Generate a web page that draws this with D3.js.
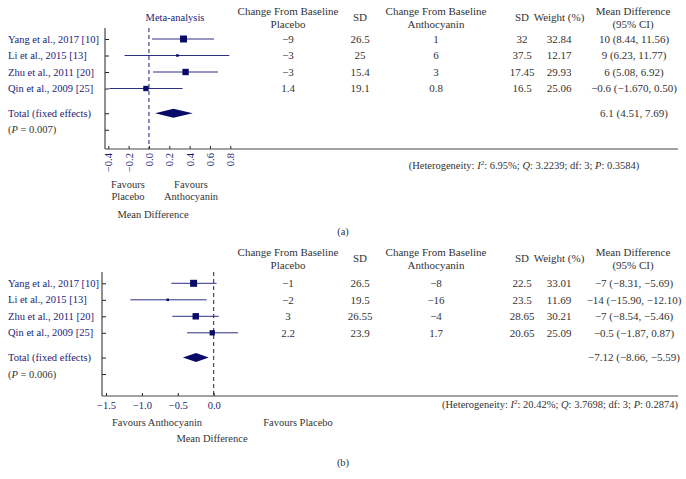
<!DOCTYPE html>
<html lang="en">
<head>
    <meta charset="UTF-8">
    <title>Forest plots</title>
    <script src="https://d3js.org/d3.v7.min.js"></script>
    <style>
        body {
            margin: 0;
            background: #fff;
            font-family: "Liberation Serif", "DejaVu Serif", serif;
        }
        svg {
            display: block;
        }
    </style>
</head>
<body>
    <div id="container"></div>

    <script>
        // study names (same in both panels)
        const studies = ['Yang et al., 2017 [10]', 'Li et al., 2015 [13]', 'Zhu et al., 2011 [20]', 'Qin et al., 2009 [25]'];

        // panel (a)
        const placeboA = ['\u22129', '\u22123', '\u22123', '1.4'];
        const placeboSdA = ['26.5', '25', '15.4', '19.1'];
        const anthoA = ['1', '6', '3', '0.8'];
        const anthoSdA = ['32', '37.5', '17.45', '16.5'];
        const weightA = [32.84, 12.17, 29.93, 25.06];
        const mdTextA = ['10 (8.44, 11.56)', '9 (6.23, 11.77)', '6 (5.08, 6.92)', '\u22120.6 (\u22121.670, 0.50)'];
        const meanA = [0.34, 0.28, 0.36, -0.03];
        const lowA = [0.03, -0.24, 0.04, -0.39];
        const highA = [0.64, 0.79, 0.68, 0.33];
        const totalA = {mean: 0.24, low: 0.06, high: 0.43, text: '6.1 (4.51, 7.69)', p: '0.007'};
        const ticksA = [-0.4, -0.2, 0.0, 0.2, 0.4, 0.6, 0.8];

        // panel (b)
        const placeboB = ['\u22121', '\u22122', '3', '2.2'];
        const placeboSdB = ['26.5', '19.5', '26.55', '23.9'];
        const anthoB = ['\u22128', '\u221216', '\u22124', '1.7'];
        const anthoSdB = ['22.5', '23.5', '28.65', '20.65'];
        const weightB = [33.01, 11.69, 30.21, 25.09];
        const mdTextB = ['\u22127 (\u22128.31, \u22125.69)', '\u221214 (\u221215.90, \u221212.10)', '\u22127 (\u22128.54, \u22125.46)', '\u22120.5 (\u22121.87, 0.87)'];
        const meanB = [-0.28, -0.64, -0.25, -0.02];
        const lowB = [-0.59, -1.16, -0.575, -0.37];
        const highB = [0.04, -0.10, 0.07, 0.34];
        const totalB = {mean: -0.245, low: -0.43, high: -0.07, text: '\u22127.12 (\u22128.66, \u22125.59)', p: '0.006'};
        const ticksB = [-1.5, -1.0, -0.5, 0.0];

        const navy = '#1c1c78';
        const mark = '#0a0a68';
        const ink = '#333';

        const width = 686, height = 479;
        const svg = d3.select('#container').append('svg')
            .attr('width', width)
            .attr('height', height);

        // marker size follows the weight
        const size = d3.scaleLinear().domain([0, 33]).range([0, 7]);

        function fmt(v) {
            return d3.format('.1f')(v).replace('-', '\u2212');
        }

        function drawPanel(p) {
            const g = svg.append('g');
            const rowIdx = [0, 1, 2, 3, 4.5, 5.5];
            const y = d3.scaleLinear().domain([0, 1]).range([p.row0, p.row0 + 16.5]);
            const x = d3.scaleLinear().domain(p.xDomain).range(p.xRange);

            // column headers
            const head = g.append('g').attr('fill', ink).attr('font-size', 11).attr('text-anchor', 'middle');
            const hy = p.headY;
            head.append('text').attr('x', 288).attr('y', hy).attr('dy', '0.35em').text('Change From Baseline');
            head.append('text').attr('x', 288).attr('y', hy + 13).attr('dy', '0.35em').text('Placebo');
            head.append('text').attr('x', 360).attr('y', hy + 6.5).attr('dy', '0.35em').text('SD');
            head.append('text').attr('x', 436).attr('y', hy).attr('dy', '0.35em').text('Change From Baseline');
            head.append('text').attr('x', 436).attr('y', hy + 13).attr('dy', '0.35em').text('Anthocyanin');
            head.append('text').attr('x', 522).attr('y', hy + 6.5).attr('dy', '0.35em').text('SD');
            head.append('text').attr('x', 559).attr('y', hy + 6.5).attr('dy', '0.35em').text('Weight (%)');
            head.append('text').attr('x', 633).attr('y', hy).attr('dy', '0.35em').text('Mean Difference');
            head.append('text').attr('x', 633).attr('y', hy + 13).attr('dy', '0.35em').text('(95% CI)');

            // table values
            const cols = [
                {x: 288, vals: p.placebo},
                {x: 360, vals: p.placeboSd},
                {x: 436, vals: p.antho},
                {x: 522, vals: p.anthoSd},
                {x: 559, vals: p.weight.map(d => d.toFixed(2))},
                {x: 634, vals: p.mdText}
            ];
            cols.forEach(c => {
                g.selectAll(null)
                    .data(c.vals)
                    .enter()
                    .append('text')
                    .attr('x', c.x)
                    .attr('y', (d, i) => y(i))
                    .attr('dy', '0.35em')
                    .attr('text-anchor', 'middle')
                    .attr('font-size', 11)
                    .attr('fill', ink)
                    .text(d => d);
            });
            g.append('text')
                .attr('x', 634).attr('y', y(4.5)).attr('dy', '0.35em')
                .attr('text-anchor', 'middle').attr('font-size', 11).attr('fill', ink)
                .text(p.total.text);

            // study labels
            g.selectAll(null)
                .data(p.studies)
                .enter()
                .append('text')
                .attr('x', 8)
                .attr('y', (d, i) => y(i))
                .attr('dy', '0.35em')
                .attr('font-size', 10.5)
                .attr('fill', navy)
                .text(d => d);
            g.append('text').attr('x', 8).attr('y', y(4.5)).attr('dy', '0.35em')
                .attr('font-size', 10.5).attr('fill', navy).text('Total (fixed effects)');
            const pt = g.append('text').attr('x', 8).attr('y', y(5.5)).attr('dy', '0.35em')
                .attr('font-size', 10.5).attr('fill', ink);
            pt.append('tspan').text('(');
            pt.append('tspan').attr('font-style', 'italic').text('P');
            pt.append('tspan').text(' = ' + p.total.p + ')');

            // y axis with inside ticks
            const yAxis = g.append('g')
                .attr('transform', `translate(${p.axisLeft},0)`)
                .call(d3.axisLeft(y).tickValues(rowIdx).tickSize(-4).tickFormat(''));
            yAxis.select('.domain').remove();
            yAxis.selectAll('line').attr('stroke', '#222');
            g.append('line')
                .attr('x1', p.axisLeft).attr('x2', p.axisLeft)
                .attr('y1', p.axisTop).attr('y2', p.axisBottom)
                .attr('stroke', '#222');

            // x axis
            const xAxis = g.append('g')
                .attr('transform', `translate(0,${p.axisBottom})`)
                .call(d3.axisBottom(x).tickValues(p.ticks).tickSize(-3).tickFormat(fmt));
            xAxis.select('.domain').remove();
            xAxis.selectAll('line').attr('stroke', '#222');
            xAxis.selectAll('text')
                .attr('fill', navy)
                .attr('font-family', '"Liberation Serif", serif')
                .attr('font-size', 10.5);
            if (p.rotate) {
                xAxis.selectAll('text')
                    .attr('transform', 'rotate(-90)')
                    .attr('text-anchor', 'end')
                    .attr('x', -4)
                    .attr('y', 0)
                    .attr('dy', '0.35em');
            } else {
                xAxis.selectAll('text').attr('y', 6).attr('dy', '0.71em');
            }
            g.append('line')
                .attr('x1', p.axisLeft).attr('x2', 678)
                .attr('y1', p.axisBottom).attr('y2', p.axisBottom)
                .attr('stroke', '#444');

            // zero line
            g.append('line')
                .attr('x1', x(0)).attr('x2', x(0))
                .attr('y1', p.axisTop).attr('y2', p.axisBottom)
                .attr('stroke', navy)
                .attr('stroke-dasharray', '4,3');

            // confidence intervals
            g.selectAll(null)
                .data(p.mean)
                .enter()
                .append('line')
                .attr('x1', (d, i) => x(p.low[i]))
                .attr('x2', (d, i) => x(p.high[i]))
                .attr('y1', (d, i) => y(i))
                .attr('y2', (d, i) => y(i))
                .attr('stroke', '#2e2e82');

            // squares
            g.selectAll(null)
                .data(p.mean)
                .enter()
                .append('rect')
                .attr('x', (d, i) => x(d) - size(p.weight[i]) / 2)
                .attr('y', (d, i) => y(i) - size(p.weight[i]) / 2)
                .attr('width', (d, i) => size(p.weight[i]))
                .attr('height', (d, i) => size(p.weight[i]))
                .attr('fill', mark);

            // pooled diamond
            const ty = y(4.5);
            g.append('path')
                .attr('d', `M${x(p.total.low)},${ty}L${x(p.total.mean)},${ty - 4.5}L${x(p.total.high)},${ty}L${x(p.total.mean)},${ty + 4.5}Z`)
                .attr('fill', mark);

            return {g, x, y};
        }

        // ---- panel (a)
        const a = drawPanel({
            studies, placebo: placeboA, placeboSd: placeboSdA, antho: anthoA, anthoSd: anthoSdA,
            weight: weightA, mdText: mdTextA, mean: meanA, low: lowA, high: highA, total: totalA,
            ticks: ticksA, xDomain: [-0.4, 0.8], xRange: [108.3, 230.3],
            row0: 39, headY: 11, axisLeft: 105, axisTop: 28, axisBottom: 149, rotate: true
        });
        a.g.append('text').attr('x', 175).attr('y', 17).attr('dy', '0.35em')
            .attr('text-anchor', 'middle').attr('font-size', 10.5).attr('fill', navy).text('Meta-analysis');
        const labA = a.g.append('g').attr('font-size', 10.5).attr('fill', ink).attr('text-anchor', 'middle');
        labA.append('text').attr('x', 128).attr('y', 184).attr('dy', '0.35em').text('Favours');
        labA.append('text').attr('x', 128).attr('y', 196).attr('dy', '0.35em').text('Placebo');
        labA.append('text').attr('x', 191).attr('y', 184).attr('dy', '0.35em').text('Favours');
        labA.append('text').attr('x', 191).attr('y', 196).attr('dy', '0.35em').text('Anthocyanin');
        labA.append('text').attr('x', 153).attr('y', 214).attr('dy', '0.35em').text('Mean Difference');
        labA.append('text').attr('x', 343).attr('y', 231).attr('dy', '0.35em').text('(a)');
        const hetA = a.g.append('text').attr('x', 524).attr('y', 165).attr('dy', '0.35em')
            .attr('text-anchor', 'middle').attr('font-size', 10.5).attr('fill', ink);
        hetA.append('tspan').text('(Heterogeneity: ');
        hetA.append('tspan').attr('font-style', 'italic').text('I');
        hetA.append('tspan').attr('font-size', 7).attr('dy', '-0.5em').text('2');
        hetA.append('tspan').attr('dy', '0.35em').text(': 6.95%; ');
        hetA.append('tspan').attr('font-style', 'italic').text('Q');
        hetA.append('tspan').text(': 3.2239; df: 3; ');
        hetA.append('tspan').attr('font-style', 'italic').text('P');
        hetA.append('tspan').text(': 0.3584)');

        // ---- panel (b)
        const b = drawPanel({
            studies, placebo: placeboB, placeboSd: placeboSdB, antho: anthoB, anthoSd: anthoSdB,
            weight: weightB, mdText: mdTextB, mean: meanB, low: lowB, high: highB, total: totalB,
            ticks: ticksB, xDomain: [-1.5, 0], xRange: [106, 213.7],
            row0: 283.3, headY: 252, axisLeft: 102, axisTop: 272, axisBottom: 396, rotate: false
        });
        const labB = b.g.append('g').attr('font-size', 10.5).attr('fill', ink).attr('text-anchor', 'middle');
        labB.append('text').attr('x', 157).attr('y', 422).attr('dy', '0.35em').text('Favours Anthocyanin');
        labB.append('text').attr('x', 298).attr('y', 422).attr('dy', '0.35em').text('Favours Placebo');
        labB.append('text').attr('x', 212).attr('y', 438).attr('dy', '0.35em').text('Mean Difference');
        labB.append('text').attr('x', 343).attr('y', 462).attr('dy', '0.35em').text('(b)');
        const hetB = b.g.append('text').attr('x', 678).attr('y', 404).attr('dy', '0.35em')
            .attr('text-anchor', 'end').attr('font-size', 10.5).attr('fill', ink);
        hetB.append('tspan').text('(Heterogeneity: ');
        hetB.append('tspan').attr('font-style', 'italic').text('I');
        hetB.append('tspan').attr('font-size', 7).attr('dy', '-0.5em').text('2');
        hetB.append('tspan').attr('dy', '0.35em').text(': 20.42%; ');
        hetB.append('tspan').attr('font-style', 'italic').text('Q');
        hetB.append('tspan').text(': 3.7698; df: 3; ');
        hetB.append('tspan').attr('font-style', 'italic').text('P');
        hetB.append('tspan').text(': 0.2874)');
    </script>
</body>
</html>
